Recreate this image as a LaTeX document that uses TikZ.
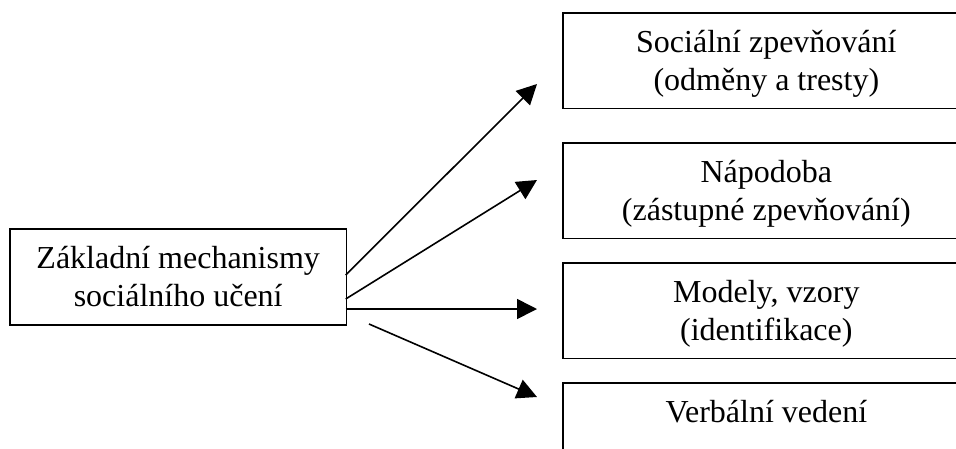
\documentclass[tikz,border=0pt]{standalone}
\usepackage{fontspec}
\setmainfont{Liberation Serif}
\usetikzlibrary{arrows.meta}
\begin{document}
\begin{tikzpicture}[x=1pt,y=-1pt,
  box/.style={draw, line width=1.7pt, rectangle, inner sep=0pt, anchor=north west,
    font=\fontsize{32}{37.5}\selectfont, text height=39.4pt},
  arr/.style={line width=1.6pt, -{Triangle[length=20pt,width=20pt]}}]
\clip (0,0) rectangle (956,448);
\renewcommand\arraystretch{1}
\setlength\tabcolsep{0pt}
\node[box, minimum width=336.7pt, text depth=56.6pt] (b0) at (9,228.3)
  {\begin{tabular}[t]{c}Základní mechanismy\\sociálního učení\end{tabular}};
\node[box, minimum width=407pt, text depth=56pt] (b1) at (562,12.3)
  {\begin{tabular}[t]{c}Sociální zpevňování\\(odměny a tresty)\end{tabular}};
\node[box, minimum width=407pt, text depth=56pt] (b2) at (562,142.3)
  {\begin{tabular}[t]{c}Nápodoba\\(zástupné zpevňování)\end{tabular}};
\node[box, minimum width=407pt, text depth=56pt] (b3) at (562,262.3)
  {\begin{tabular}[t]{c}Modely, vzory\\(identifikace)\end{tabular}};
\node[box, minimum width=407pt, text depth=56pt] (b4) at (562,382.3)
  {\begin{tabular}[t]{c}Verbální vedení\end{tabular}};
\coordinate (s1) at (345.7,275);
\coordinate (s2) at (345.7,299);
\coordinate (s3) at (345.7,309);
\coordinate (s4) at (369,324);
\coordinate (t1) at (537,84);
\coordinate (t2) at (537,180);
\coordinate (t3) at (537,309);
\coordinate (t4) at (537,397);
\draw[arr] (s1) -- (t1);
\draw[arr] (s2) -- (t2);
\draw[arr] (s3) -- (t3);
\draw[arr] (s4) -- (t4);
\end{tikzpicture}
\end{document}
